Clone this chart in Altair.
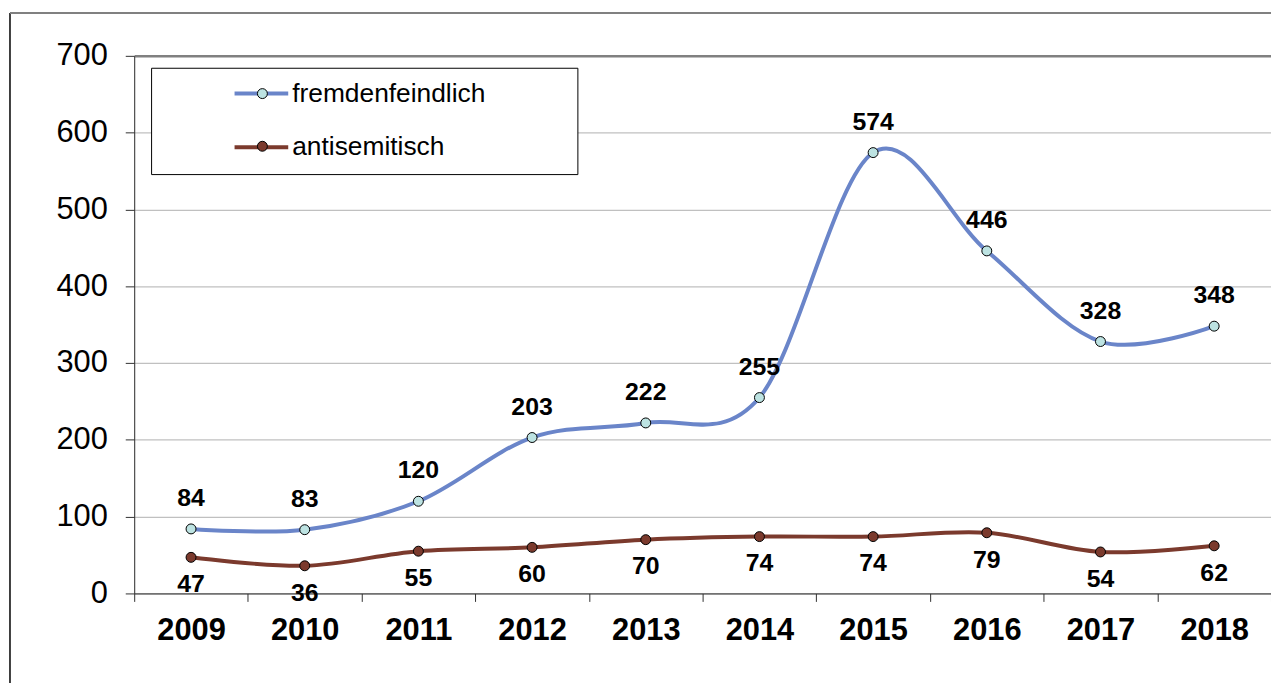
import altair as alt
import pandas as pd

years = ["2009", "2010", "2011", "2012", "2013", "2014", "2015", "2016", "2017", "2018"]
fremdenfeindlich = [84, 83, 120, 203, 222, 255, 574, 446, 328, 348]
antisemitisch = [47, 36, 55, 60, 70, 74, 74, 79, 54, 62]
series_names = ["fremdenfeindlich", "antisemitisch"]
point_keys = ["p_fremdenfeindlich", "p_antisemitisch"]
line_colors = ["#6a85c9", "#7b3a2d"]
point_fills = ["#bde3e2", "#7b3a2d"]
y_ticks = [0, 100, 200, 300, 400, 500, 600, 700]

rows = []
for s, pk, vals in zip(series_names, point_keys, [fremdenfeindlich, antisemitisch]):
    for yr, v in zip(years, vals):
        rows.append({"year": yr, "value": v, "series": s, "pseries": pk})
df = pd.DataFrame(rows)

FONT = "Liberation Sans"
W, H = 1144, 541

x_scale = alt.Scale(type="band", paddingInner=0, paddingOuter=0, domain=years)
y_scale = alt.Scale(domain=[0, 700], nice=False)

x_enc = alt.X(
    "year:O", bandPosition=0.5, scale=x_scale, title=None,
    axis=alt.Axis(tickBand="extent", labelAngle=0, labelFont=FONT, labelFontSize=31,
                  labelFontWeight="bold", labelColor="black", labelPadding=14,
                  tickSize=8, tickColor="#303030", domainColor="#303030", grid=False),
)
y_enc = alt.Y(
    "value:Q", scale=y_scale, title=None,
    axis=alt.Axis(values=y_ticks, labelFont=FONT, labelFontSize=31, labelColor="black",
                  labelPadding=18, tickSize=9, tickColor="#303030", domainColor="#303030",
                  gridColor=alt.condition("datum.value == 700", alt.value("#808080"), alt.value("#c0c0c0")),
                  gridWidth=alt.condition("datum.value == 700", alt.value(2.5), alt.value(1.2))),
)

base = alt.Chart(df)

pad_tail = "\u00a0" * 8 + "\u2800"

lines = base.mark_line(strokeWidth=4, interpolate="cardinal").encode(
    x=x_enc, y=y_enc,
    stroke=alt.Stroke(
        "series:N",
        scale=alt.Scale(domain=series_names, range=line_colors),
        legend=alt.Legend(
            orient="none", legendX=17, legendY=12, title="\u00a0", titleOrient="left",
            titleFontSize=25, titlePadding=69, symbolType="stroke", symbolSize=2916,
            symbolStrokeWidth=4, clipHeight=26, labelFont=FONT, labelFontSize=26.5,
            labelColor="black", labelLimit=0, labelOffset=2, rowPadding=27, padding=13,
            strokeColor="black", fillColor="white",
            labelExpr="datum.label + '" + pad_tail + "'",
        ),
    ),
    detail="series:N",
)

points = base.mark_circle(size=100, stroke="black", strokeWidth=1, opacity=1).encode(
    x=x_enc, y=y_enc,
    fill=alt.Fill(
        "pseries:N",
        scale=alt.Scale(domain=point_keys, range=point_fills),
        legend=alt.Legend(
            orient="none", legendX=103, legendY=12, title=None, symbolType="circle",
            symbolSize=100, symbolStrokeColor="black", symbolStrokeWidth=1,
            symbolOpacity=1, clipHeight=26, labelFont=FONT, labelFontSize=26,
            labelExpr="''", rowPadding=27, padding=13,
        ),
    ),
)

text_top = base.transform_filter(alt.datum.series == "fremdenfeindlich").mark_text(
    dy=-31, font=FONT, fontSize=25, fontWeight="bold", color="black"
).encode(x=x_enc, y=y_enc, text="value:Q")

text_bottom = base.transform_filter(alt.datum.series == "antisemitisch").mark_text(
    dy=27, font=FONT, fontSize=25, fontWeight="bold", color="black"
).encode(x=x_enc, y=y_enc, text="value:Q")

frame_df = pd.DataFrame({"k": [0]})
frame_left = alt.Chart(frame_df).mark_rule(color="#000000", strokeWidth=1.5).encode(
    x=alt.value(-125), y=alt.value(-43), y2=alt.value(660)
)
frame_top = alt.Chart(frame_df).mark_rule(color="#808080", strokeWidth=2).encode(
    x=alt.value(-125), x2=alt.value(1200), y=alt.value(-43)
)

chart = alt.layer(lines, points, text_top, text_bottom, frame_left, frame_top).resolve_scale(
    stroke="independent", fill="independent"
).properties(
    width=W, height=H,
    autosize=alt.AutoSizeParams(type="none"),
    padding={"left": 127, "top": 46, "right": 0, "bottom": 88},
).configure_view(stroke=None).configure(background="white")

chart.save("out.html", embed_options={"renderer": "svg", "actions": False})
